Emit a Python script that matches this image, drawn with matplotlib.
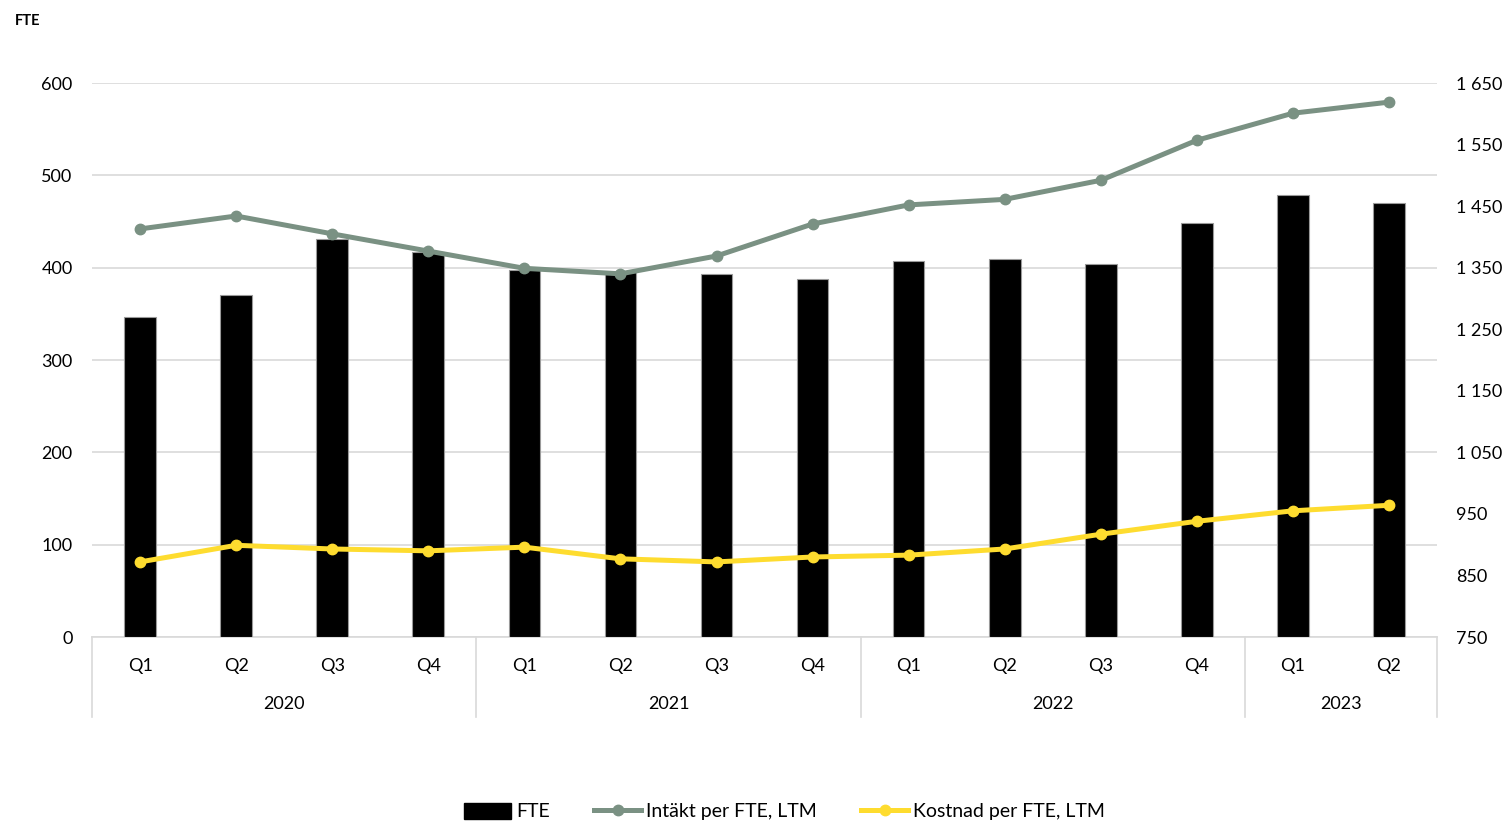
import matplotlib
matplotlib.use("Agg")
import matplotlib.pyplot as plt
from matplotlib.lines import Line2D
from matplotlib.patches import Patch
from matplotlib.ticker import FuncFormatter
import matplotlib.transforms as mtransforms

quarters = ["Q1", "Q2", "Q3", "Q4"] * 3 + ["Q1", "Q2"]
years = ["2020", "2021", "2022", "2023"]
year_sizes = [4, 4, 4, 2]

fte = [347, 370, 431, 417, 397, 395, 393, 388, 407, 409, 404, 448, 479, 470]
intakt = [1413, 1434, 1405, 1377, 1349, 1340, 1369, 1421, 1452, 1461, 1492, 1557, 1601, 1619]
kostnad = [872, 899, 893, 890, 896, 877, 872, 880, 883, 893, 917, 938, 955, 964]

GREEN = "#7a9183"
YELLOW = "#fedc2f"
GRID = "#d9d9d9"

plt.rcParams["font.family"] = ["Lato", "DejaVu Sans"]

fig = plt.figure(figsize=(15.09, 8.23), dpi=100)
ax = fig.add_axes([0.061, 0.226, 0.8913, 0.6731])
ax2 = ax.twinx()

x = list(range(len(fte)))
ax.bar(x, fte, width=0.33, color="black", edgecolor="#9a9a9a", linewidth=0.8, zorder=2)
ax2.plot(x, intakt, color=GREEN, linewidth=3.6, marker="o", markersize=7.5, zorder=3)
ax2.plot(x, kostnad, color=YELLOW, linewidth=3.6, marker="o", markersize=7.5, zorder=3)

ax.set_xlim(-0.5, len(fte) - 0.5)
ax.set_ylim(0, 600)
ax.set_yticks(range(0, 601, 100))
ax2.set_ylim(750, 1650)
ax2.set_yticks(range(750, 1651, 100))
ax2.yaxis.set_major_formatter(FuncFormatter(lambda v, p: f"{int(v):,}".replace(",", " ")))

ax.yaxis.grid(True, color=GRID, linewidth=1.2, zorder=0)
ax.set_axisbelow(True)
for a in (ax, ax2):
    for s in ("top", "right", "left", "bottom"):
        a.spines[s].set_visible(False)
    a.tick_params(axis="y", length=0, labelsize=13, colors="black")
ax.tick_params(axis="y", pad=14)
ax2.tick_params(axis="y", pad=14)

ax.set_xticks(x)
ax.set_xticklabels(quarters)
ax.tick_params(axis="x", length=0, pad=15, labelsize=13)

# category axis frame
trans = mtransforms.blended_transform_factory(ax.transData, ax.transAxes)
ax.plot([-0.5, len(fte) - 0.5], [0, 0], transform=trans, color=GRID, linewidth=1.2, clip_on=False, zorder=1)
drop = -80 / 554
start = -0.5
for yr, n in zip(years, year_sizes):
    ax.plot([start, start], [0, drop], transform=trans, color=GRID, linewidth=1.2, clip_on=False)
    ax.text(start + n / 2, -67 / 554, yr, transform=trans, ha="center", va="center", fontsize=13)
    start += n
ax.plot([start, start], [0, drop], transform=trans, color=GRID, linewidth=1.2, clip_on=False)

fig.text(0.0099, 0.975, "FTE", fontsize=10.5, fontweight="bold", va="center")

handles = [
    Patch(facecolor="black", edgecolor="black"),
    Line2D([], [], color=GREEN, linewidth=3.6, marker="o", markersize=7.5),
    Line2D([], [], color=YELLOW, linewidth=3.6, marker="o", markersize=7.5),
]
labels = ["FTE", "Intäkt per FTE, LTM", "Kostnad per FTE, LTM"]
fig.legend(handles, labels, loc="center", bbox_to_anchor=(0.52, 0.014), ncol=3, frameon=False,
           fontsize=14, handlelength=2.4, handleheight=0.9, handletextpad=0.25, columnspacing=2.3)

fig.savefig("out.png", dpi=100)
